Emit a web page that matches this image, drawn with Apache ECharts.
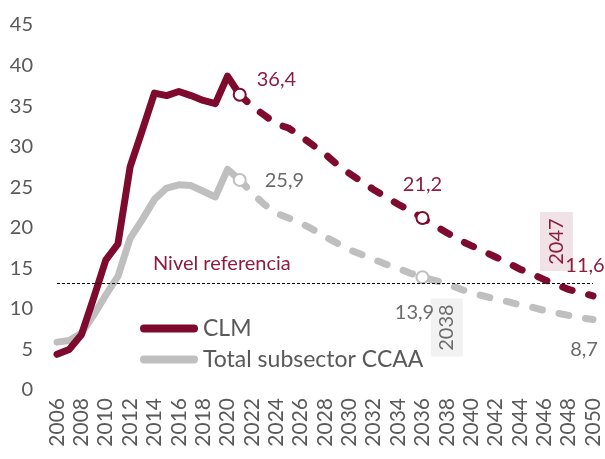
<!DOCTYPE html>
<html style="height: 100%">
<head>
    <meta charset="utf-8">
</head>
<body style="height: 100%; margin: 0">
<div id="container" style="width: 605px; height: 459px"></div>
<script type="text/javascript" src="https://cdn.jsdelivr.net/npm/echarts@6/dist/echarts.min.js"></script>
<script type="text/javascript">
var dom = document.getElementById("container");
var myChart = echarts.init(dom);

var years = ['2006', '2007', '2008', '2009', '2010', '2011', '2012', '2013', '2014', '2015',
    '2016', '2017', '2018', '2019', '2020', '2021', '2022', '2023', '2024', '2025',
    '2026', '2027', '2028', '2029', '2030', '2031', '2032', '2033', '2034', '2035',
    '2036', '2037', '2038', '2039', '2040', '2041', '2042', '2043', '2044', '2045',
    '2046', '2047', '2048', '2049', '2050'];

// 2006-2021 observed
var clmHist = [4.4, 5.0, 6.8, 11.3, 16.0, 18.0, 27.5, 32.0, 36.6, 36.3, 36.8, 36.3, 35.7, 35.3, 38.7, 36.4];
var totalHist = [5.9, 6.1, 7.0, 9.2, 11.7, 14.0, 18.7, 21.0, 23.5, 24.9, 25.3, 25.2, 24.5, 23.8, 27.2, 25.9];

// 2021-2050 projection
var clmProj = [36.4, 35.0, 33.9, 32.8, 32.3, 31.3, 30.2, 29.1, 27.8, 26.7, 25.7, 24.7, 23.8, 22.9, 22.1,
    21.2, 20.3, 19.4, 18.5, 17.8, 17.1, 16.4, 15.7, 14.9, 14.3, 13.6, 13.0, 12.4, 12.0, 11.6];
var totalProj = [25.9, 24.3, 22.9, 21.8, 21.2, 20.6, 19.8, 18.9, 18.1, 17.3, 16.7, 16.1, 15.5, 15.0, 14.4,
    13.9, 13.5, 13.1, 12.5, 12.0, 11.6, 11.2, 10.9, 10.5, 10.2, 9.8, 9.5, 9.2, 8.9, 8.7];

var refLevel = 13.1;
var clmCrossYear = '2047';
var totalCrossYear = '2038';

var red = '#7e0b2e';
var redText = '#8c1d3e';
var grey = '#bfbfbf';
var greyText = '#6b6b6b';
var axisText = '#595959';
var font = 'Lato';

function fmt(v) {
    return v.toFixed(1).replace('.', ',');
}

function histData(arr) {
    return arr.concat(years.slice(arr.length).map(function () { return '-'; }));
}

// marks: year -> {symbol: bool, label: {...}}
function projData(arr, marks, color, txt) {
    var pad = years.slice(0, years.length - arr.length).map(function () { return '-'; });
    return pad.concat(arr.map(function (v, i) {
        var m = marks[years[pad.length + i]];
        if (!m) return v;
        return {
            value: v,
            symbol: 'circle',
            symbolSize: m.symbol ? 12 : 1,
            itemStyle: m.symbol
                ? { color: '#fff', borderColor: color, borderWidth: 2 }
                : { color: 'rgba(0,0,0,0)', borderWidth: 0 },
            label: Object.assign({
                show: true,
                formatter: fmt(v),
                color: txt,
                fontSize: 20,
                fontFamily: font
            }, m.label)
        };
    }));
}

var capsule = 'path://M4,0 H54 A4,4 0 0 1 54,8 H4 A4,4 0 0 1 4,0 Z';

option = {
    animation: false,
    textStyle: { fontFamily: font },
    grid: { left: 57, right: 12, top: 25, bottom: 69 },
    legend: {
        orient: 'vertical',
        left: 140,
        top: 317,
        padding: 0,
        itemWidth: 58,
        itemHeight: 8,
        itemGap: 8,
        textStyle: { fontSize: 23, color: axisText, fontFamily: font },
        data: [
            { name: 'CLM', icon: capsule },
            { name: 'Total subsector CCAA', icon: capsule }
        ]
    },
    xAxis: {
        type: 'category',
        data: years,
        boundaryGap: false,
        axisLine: { show: false },
        axisTick: { show: false },
        axisLabel: { interval: 1, rotate: 90, fontSize: 21, color: axisText, margin: 8 }
    },
    yAxis: {
        type: 'value',
        min: 0,
        max: 45,
        interval: 5,
        splitLine: { show: false },
        axisLine: { show: false },
        axisLabel: { fontSize: 20, color: axisText, margin: 24 }
    },
    series: [
        {
            name: 'Total subsector CCAA',
            type: 'line',
            symbol: 'none',
            color: grey,
            lineStyle: { width: 7, color: grey, cap: 'round', join: 'round' },
            data: histData(totalHist),
            markLine: {
                silent: true,
                symbol: 'none',
                lineStyle: { color: '#000', width: 1, type: [3, 2] },
                label: {
                    show: true,
                    position: 'insideStartTop',
                    formatter: 'Nivel referencia',
                    color: redText,
                    fontSize: 20,
                    fontFamily: font,
                    distance: 10,
                    padding: [0, 0, 0, 86]
                },
                data: [{ yAxis: refLevel }]
            }
        },
        {
            name: 'Total proyección',
            type: 'line',
            symbol: 'none',
            color: grey,
            lineStyle: { width: 7, color: grey, type: [10, 17], cap: 'round', join: 'round' },
            data: projData(totalProj, {
                '2021': { symbol: true, label: { position: 'right', distance: 18, offset: [0, 1] } },
                '2036': { symbol: true, label: { position: 'bottom', distance: 18, offset: [-8, 0] } },
                '2050': { symbol: false, label: { position: 'bottom', distance: 20, offset: [-9, 0] } }
            }, grey, greyText),
            markPoint: {
                silent: true,
                z: 1,
                symbol: 'rect',
                symbolSize: [32, 58],
                itemStyle: { color: '#f2f2f2' },
                label: {
                    show: true, position: 'inside', rotate: 90, color: greyText,
                    fontSize: 20, fontFamily: font, formatter: totalCrossYear
                },
                data: [{ coord: [totalCrossYear, 7.7] }]
            }
        },
        {
            name: 'CLM',
            type: 'line',
            symbol: 'none',
            color: red,
            lineStyle: { width: 7, color: red, cap: 'round', join: 'round' },
            data: histData(clmHist)
        },
        {
            name: 'CLM proyección',
            type: 'line',
            symbol: 'none',
            color: red,
            lineStyle: { width: 7, color: red, type: [10, 17], cap: 'round', join: 'round' },
            data: projData(clmProj, {
                '2021': { symbol: true, label: { position: 'right', distance: 10, offset: [0, -15] } },
                '2036': { symbol: true, label: { position: 'top', distance: 16 } },
                '2050': { symbol: false, label: { position: 'top', distance: 20, offset: [-8, 0] } }
            }, red, redText),
            markPoint: {
                silent: true,
                z: 1,
                symbol: 'rect',
                symbolSize: [33, 59],
                itemStyle: { color: '#f1e2e7' },
                label: {
                    show: true, position: 'inside', rotate: 90, color: redText,
                    fontSize: 20, fontFamily: font, formatter: clmCrossYear
                },
                data: [{ coord: [clmCrossYear, 18.3] }]
            }
        }
    ]
};

if (option && typeof option === "object") {
    myChart.setOption(option, true);
}
</script>
</body>
</html>
